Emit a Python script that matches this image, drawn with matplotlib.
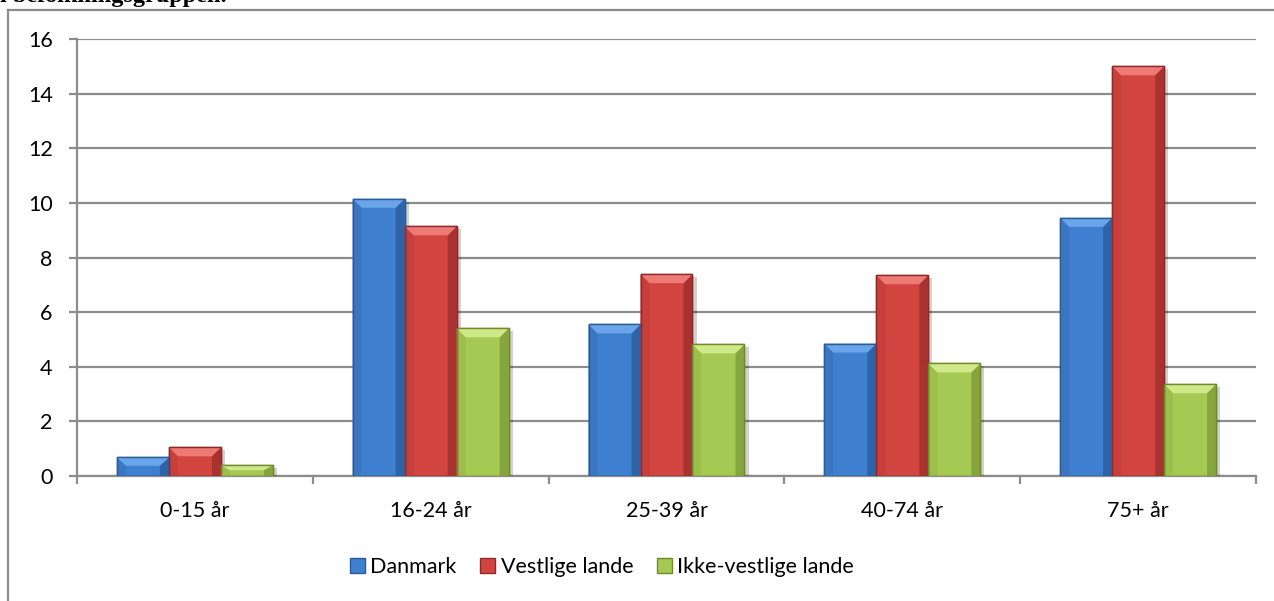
import matplotlib
matplotlib.use('Agg')
import matplotlib.pyplot as plt
import numpy as np
from matplotlib.patches import Polygon, Patch
from matplotlib.lines import Line2D
import matplotlib.patheffects as pe

categories = ['0-15 år', '16-24 år', '25-39 år', '40-74 år', '75+ år']
danmark = [0.68, 10.15, 5.55, 4.85, 9.45]
vestlige = [1.05, 9.14, 7.39, 7.35, 15.0]
ikke_vestlige = [0.39, 5.41, 4.82, 4.12, 3.36]
series_names = ['Danmark', 'Vestlige lande', 'Ikke-vestlige lande']
yticks = [0, 2, 4, 6, 8, 10, 12, 14, 16]
title_text = 'i befolkningsgruppen.'

FONT = ['Lato', 'DejaVu Sans']
plt.rcParams['font.family'] = FONT
FS = 15.5

W, H = 1274, 601
fig = plt.figure(figsize=(W / 100, H / 100), dpi=100)
ax = fig.add_axes([77 / W, 1 - 476 / H, (1256 - 77) / W, (476 - 39) / H])

styles = [
    dict(face='#3F7FCF', edge='#2B5B96', top='#6AA5EA', left='#3A76C2', right='#2F63A8'),
    dict(face='#D24440', edge='#8E2A27', top='#EE7A76', left='#C83E3B', right='#A8322F'),
    dict(face='#A6C954', edge='#6E8A2C', top='#CFE88A', left='#9CBF4C', right='#86A53E'),
]

ax.set_xlim(-0.5, len(categories) - 0.5)
ax.set_ylim(0, 16)

bw = 0.2205
offsets = [-bw, 0, bw]
x = np.arange(len(categories))
all_series = [danmark, vestlige, ikke_vestlige]

# pixel -> data conversion for bevel
px_x = (len(categories)) / (1256 - 77)
px_y = 16 / (476 - 39)
bev = 9

bars_all = []
for s, vals, off in zip(styles, all_series, offsets):
    bars = ax.bar(x + off, vals, width=bw, color=s['face'], edgecolor=s['edge'],
                  linewidth=1.0, zorder=3,
                  path_effects=[pe.SimplePatchShadow(offset=(3, -2), alpha=0.18, shadow_rgbFace='#000000'),
                                pe.Normal()])
    bars_all.append((bars, s))

for bars, s in bars_all:
    for p in bars:
        x0, w, h = p.get_x(), p.get_width(), p.get_height()
        bx = bev * px_x
        by = min(bev * px_y, h * 0.45)
        x1 = x0 + w
        ax.add_patch(Polygon([(x0, 0), (x0, h), (x0 + bx, h - by), (x0 + bx, 0)],
                             closed=True, facecolor=s['left'], edgecolor='none', zorder=4))
        ax.add_patch(Polygon([(x1, 0), (x1, h), (x1 - bx, h - by), (x1 - bx, 0)],
                             closed=True, facecolor=s['right'], edgecolor='none', zorder=4))
        ax.add_patch(Polygon([(x0, h), (x1, h), (x1 - bx, h - by), (x0 + bx, h - by)],
                             closed=True, facecolor=s['top'], edgecolor='none', zorder=4))
        ax.add_patch(Polygon([(x0, 0), (x0, h), (x1, h), (x1, 0)], closed=True,
                             facecolor='none', edgecolor=s['edge'], linewidth=1.0, zorder=5))

grid_c = '#8C8C8C'
ax.set_yticks(yticks)
ax.set_yticklabels([str(t) for t in yticks])
ax.yaxis.grid(True, color=grid_c, linewidth=1.6, zorder=0)
ax.set_axisbelow(True)
for sp in ['top', 'right']:
    ax.spines[sp].set_visible(False)
for sp in ['left', 'bottom']:
    ax.spines[sp].set_color(grid_c)
    ax.spines[sp].set_linewidth(1.6)

ax.set_xticks(x)
ax.set_xticklabels(categories)
ax.set_xticks(np.arange(-0.5, len(categories), 1), minor=True)
ax.tick_params(axis='x', which='major', length=0, pad=18, labelsize=FS, labelcolor='#000000')
ax.tick_params(axis='x', which='minor', length=5.5, width=1.6, color=grid_c, direction='out')
ax.tick_params(axis='y', which='major', length=5.5, width=1.6, color=grid_c, pad=12,
               labelsize=FS, labelcolor='#000000')

handles = [Patch(facecolor=s['face'], edgecolor=s['edge'], linewidth=1.0) for s in styles]
fig.legend(handles, series_names, loc='center', bbox_to_anchor=(602 / W, 1 - 567 / H),
           ncol=3, frameon=False, fontsize=FS, handlelength=0.7, handleheight=0.7,
           handletextpad=0.25, columnspacing=1.1)

# outer chart border (partially visible)
fig.add_artist(Line2D([8 / W, 8 / W], [0, 1 - 10 / H], transform=fig.transFigure,
                      color=grid_c, linewidth=1.6))
fig.add_artist(Line2D([8 / W, 1], [1 - 10 / H, 1 - 10 / H], transform=fig.transFigure,
                      color=grid_c, linewidth=1.6))

# heading text above the chart (cut off at the top, as in the source)
fig.text(0 / W, 1 - 2 / H, title_text, fontsize=17.5, fontweight='bold',
         family=['Liberation Serif', 'DejaVu Serif'], ha='left', va='baseline')

fig.savefig('out.png', dpi=100)
